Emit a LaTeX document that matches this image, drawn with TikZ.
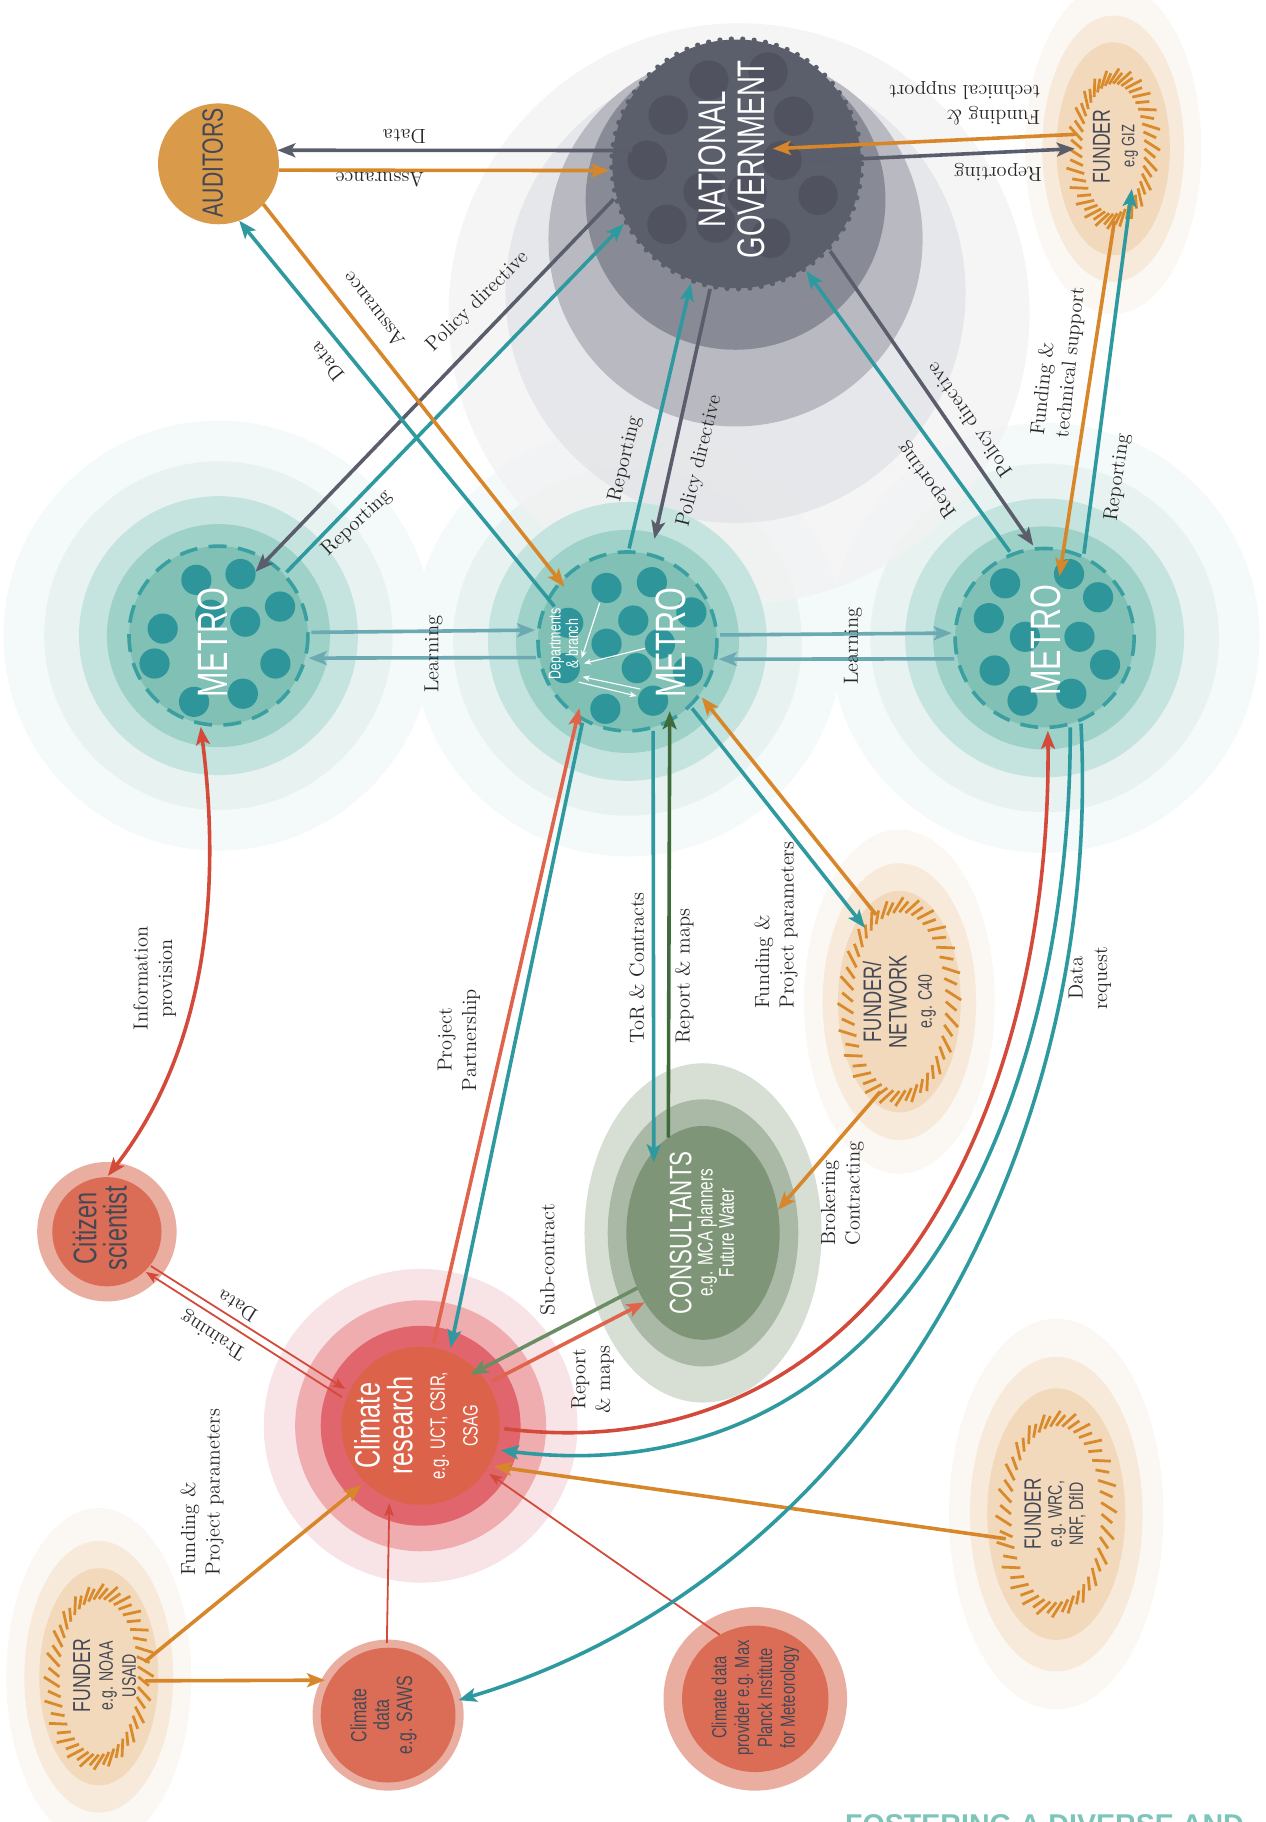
\documentclass[tikz,border=0pt]{standalone}
\usepackage{fontspec}
\usetikzlibrary{arrows.meta,shapes.geometric,calc}
\newfontfamily\condfont[FakeStretch=0.72]{Liberation Sans}
\newfontfamily\plainsans{Liberation Sans}

\definecolor{ngGear}{HTML}{5B5E6B}
\definecolor{ngDot}{HTML}{50535F}
\definecolor{ngRingA}{HTML}{888B96}
\definecolor{ngRingB}{HTML}{B9BAC1}
\definecolor{ngRingC}{HTML}{E4E5E8}
\definecolor{ngRingD}{HTML}{F2F2F3}
\definecolor{mtDot}{HTML}{2E969B}
\definecolor{mtCore}{HTML}{80C0B5}
\definecolor{mtRingA}{HTML}{9ED1C8}
\definecolor{mtRingB}{HTML}{C6E4DF}
\definecolor{mtRingC}{HTML}{E8F3F1}
\definecolor{mtRingD}{HTML}{F4F9F9}
\definecolor{mtDash}{HTML}{3A9FA1}
\definecolor{audCol}{HTML}{D99A4A}
\definecolor{txtDark}{HTML}{454854}
\definecolor{fnHatch}{HTML}{D98A2B}
\definecolor{fnFill}{HTML}{F2D9BB}
\definecolor{fnRingA}{HTML}{F7EADB}
\definecolor{fnRingB}{HTML}{FBF7F2}
\definecolor{csCore}{HTML}{7E9677}
\definecolor{csRingA}{HTML}{AAB9A6}
\definecolor{csRingB}{HTML}{D7DFD5}
\definecolor{crCore}{HTML}{DC624A}
\definecolor{crRingA}{HTML}{E0656D}
\definecolor{crRingB}{HTML}{EFADB0}
\definecolor{crRingC}{HTML}{F8E4E6}
\definecolor{rdCore}{HTML}{DB6D56}
\definecolor{rdRing}{HTML}{E9AEA0}
\definecolor{arGray}{HTML}{5A5D6B}
\definecolor{arOrange}{HTML}{D8862A}
\definecolor{arTeal}{HTML}{2E9AA0}
\definecolor{arLearn}{HTML}{6BA9B3}
\definecolor{arRed}{HTML}{D44A3A}
\definecolor{arSalmon}{HTML}{E0634C}
\definecolor{arGreen}{HTML}{3E6B39}
\definecolor{arSage}{HTML}{6B8D64}
\definecolor{titleCol}{HTML}{7DC4B9}

\tikzset{
  hub/.style={circle,inner sep=0pt,outer sep=0pt},
  hubell/.style={ellipse,inner sep=0pt,outer sep=0pt},
  flow/.style={line width=2.2pt,-{Stealth[length=11pt,width=8.5pt,inset=2.5pt]}},
  flowboth/.style={line width=2.2pt,{Stealth[length=11pt,width=8.5pt,inset=2.5pt]}-{Stealth[length=11pt,width=8.5pt,inset=2.5pt]}},
  thinflow/.style={line width=1.1pt,-{Stealth[length=8pt,width=6pt,inset=2pt]}},
  wflow/.style={white,line width=0.7pt,-{Stealth[length=4.5pt,width=3.5pt]}},
  lbl/.style={font=\fontsize{12.5}{15}\selectfont,inner sep=0pt,text=black!85,align=center},
  ent/.style={font=\condfont,inner sep=0pt,align=center,rotate=90}
}

% funder: centre x, centre y, hatch radii, halo scale
\newcommand\funder[5]{%
  \fill[fnRingB] (#1,#2) ellipse [x radius={2.05*#5*#3}, y radius={2.05*#5*#4}];
  \fill[fnRingA] (#1,#2) ellipse [x radius={1.65*#5*#3}, y radius={1.65*#5*#4}];
  \fill[fnFill] (#1,#2) ellipse [x radius={1.32*#5*#3}, y radius={1.32*#5*#4}];
  \foreach \a in {0,7.5,...,352.5}
    \draw[fnHatch,line width=1.7pt] (#1,#2) ++({\a}:{#3-6} and {#4-6}) -- ++({\a+40}:{12+4*mod(\a/7.5,2)});
}

\begin{document}
\begin{tikzpicture}[x=0.025cm,y=-0.025cm]
\useasboundingbox (0,0) rectangle (1089,1568);

% halos
\foreach \cx/\cy in {188/547,540/552,899/549} {
  \fill[mtRingD] (\cx,\cy) circle (185);
  \fill[mtRingC] (\cx,\cy) circle (150);
}
\fill[ngRingD,fill opacity=.8] (636,270) circle (250);
\fill[ngRingC,fill opacity=.85] (633,252) circle (198);
\foreach \cx/\cy in {188/547,540/552,899/549} {
  \fill[mtRingB] (\cx,\cy) circle (120);
  \fill[mtRingA] (\cx,\cy) circle (96);
  \fill[mtCore] (\cx,\cy) circle (77);
  \draw[mtDash,line width=2.2pt,dash pattern=on 11pt off 7pt] (\cx,\cy) circle (77);
}
\foreach \p in {(169,499),(207,494),(241,522),(140,541),(211,535),(181,529),(133,571),(237,571),(167,604),(209,597)}
  \fill[mtDot] \p circle (13);
\foreach \p in {(522,506),(561,501),(545,534),(595,527),(489,536),(522,554),(568,554),(486,575),(548,575),(592,578),(521,610),(562,603)}
  \fill[mtDot] \p circle (13);
\foreach \p in {(865,502),(920,494),(945,514),(851,532),(882,548),(929,548),(951,572),(856,577),(880,603),(922,597)}
  \fill[mtDot] \p circle (13);

\fill[ngRingB] (633,206) circle (161);
\fill[ngRingA] (633,172) circle (129);
\fill[ngGear] (634,141) circle (107);
\draw[ngGear,line width=3.2pt,dash pattern=on 0pt off 7pt,line cap=round] (634,141) circle (107.5);
\foreach \p in {(610,69),(661,62),(575,99),(683,100),(557,138),(673,138),(605,165),(643,166),(704,168),(574,193),(616,192),(663,205)}
  \fill[ngDot] \p circle (17);

\fill[audCol] (188,141) circle (52);

\funder{958}{128}{33}{62}{1.12}
\funder{774}{862}{46}{83}{0.87}
\funder{909}{1303}{45}{82}{1}
\funder{85}{1443}{40}{73}{0.97}

\fill[csRingB] (605,1061) ellipse [x radius=102, y radius=146];
\fill[csRingA] (605,1061) ellipse [x radius=82, y radius=115];
\fill[csCore] (605,1061) ellipse [x radius=66, y radius=92];

\fill[crRingC] (362,1227) circle (135);
\fill[crRingB] (362,1227) circle (108);
\fill[crRingA] (362,1227) circle (86);
\fill[crCore] (362,1227) circle (68);

\fill[rdRing] (92,1060) circle (60);
\fill[rdCore] (92,1060) circle (47);
\fill[rdRing] (334,1476) circle (65);
\fill[rdCore] (334,1476) circle (58);
\fill[rdRing] (650,1462) circle (79);
\fill[rdCore] (650,1462) circle (63);

% hubs
\node[hub,minimum size=5.5cm] (natgov) at (634,141) {};
\node[hub,minimum size=2.6cm] (aud) at (188,141) {};
\node[hub,minimum size=4cm] (metroL) at (188,547) {};
\node[hub,minimum size=4cm] (metroM) at (540,552) {};
\node[hub,minimum size=4cm] (metroR) at (899,549) {};
\node[hub,minimum size=0.85cm] (dept) at (486,575) {};
\node[hubell,minimum width=1.65cm,minimum height=3.1cm] (giz) at (958,128) {};
\node[hubell,minimum width=2.3cm,minimum height=4.15cm] (c40) at (774,862) {};
\node[hubell,minimum width=3.3cm,minimum height=4.6cm] (cons) at (605,1061) {};
\node[hub,minimum size=3.6cm] (research) at (362,1227) {};
\node[hub,minimum size=2.4cm] (citizen) at (92,1060) {};
\node[hub,minimum size=3.1cm] (saws) at (334,1476) {};
\node[hub,minimum size=3.15cm] (planck) at (650,1462) {};
\node[hubell,minimum width=2.25cm,minimum height=4.1cm] (wrc) at (909,1303) {};
\node[hubell,minimum width=2cm,minimum height=3.65cm] (noaa) at (85,1443) {};
\coordinate (dotA) at (516,519);
\coordinate (dotB) at (555,558);
\coordinate (dotC) at (548,599);
\coordinate (dotD) at (551,593);

% connectors
\draw[flow,arGray,shorten <=-14pt] (natgov.174.7) -- (aud.13);
\draw[flow,arOrange] (aud.-6) -- (natgov.183);
\draw[flow,arOrange] (giz.159) -- ($(natgov)+(31,-13)$);
\draw[flow,arGray] ($(natgov)+(56,-2)$) -- (giz.180);
\draw[flow,arGray,shorten >=-12pt] (natgov.196) -- (metroL.57);
\draw[flow,arTeal] (metroL.43) -- (natgov.208);
\draw[flow,arTeal,shorten <=-8pt] (metroM.151.5) -- (aud.-70);
\draw[flow,arOrange,shorten >=-6pt] (aud.-42.6) -- (metroM.138.7);
\draw[flow,arTeal] (metroM.89) -- (natgov.249.8);
\draw[flow,arGray,shorten >=8pt] (natgov.258) -- (metroM.75.5);
\draw[flow,arTeal] (metroR.112) -- (natgov.303.4);
\draw[flow,arGray] (natgov.317) -- (metroR.97);
\draw[flow,arOrange,shorten >=-18pt] (giz.-89) -- (metroR.78);
\draw[flow,arTeal,shorten >=-16pt] (metroR.65.6) -- (giz.-77);

\draw[flow,arLearn] (metroL.2.9) -- (metroM.173.5);
\draw[flow,arLearn] (metroM.190.8) -- (metroL.-14.5);
\draw[flow,arLearn] (metroM.4.3) -- (metroR.177.9);
\draw[flow,arLearn] (metroR.193.7) -- (metroM.-11.5);

\draw[wflow] (dotA) -- (dept.31);
\draw[wflow] (dotB) -- (dept.14);
\draw[wflow] (dept.-45) -- (dotC);
\draw[wflow] (dotD) -- (dept.-26.6);

\draw[flow,arTeal,shorten >=-7pt] (metroM.-74.8) -- (cons.121);
\draw[flow,arGreen,shorten >=-8pt] (cons.110) -- (metroM.-63.3);
\draw[flow,arTeal] (metroM.-46.5) -- (c40.115);
\draw[flow,arOrange] (c40.105.6) -- (metroM.-37.7);
\draw[flow,arOrange] (c40.-102) -- (cons.17);
\draw[flow,arSage,shorten >=-8pt] (cons.220.7) -- (research.43.6);
\draw[flow,arSalmon] (research.32.4) -- (cons.230);
\draw[flow,arSalmon,shorten >=-7pt] (research.81) -- (metroM.-123.7);
\draw[flow,arTeal] (metroM.-119) -- (research.69.5);

\draw[flowboth,arRed] (metroL.259) .. controls (190,760) and (180,900) .. (citizen.89);
\draw[thinflow,arRed] (citizen.-38.7) -- (research.154.5);
\draw[thinflow,arRed] (research.160.5) -- (citizen.-46);

\draw[flow,arOrange] (noaa.18.4) -- (research.225);
\draw[flow,arOrange] (noaa.-5) -- (saws.151.6);
\draw[thinflow,arRed] (saws.91) -- (research.-112.2);
\draw[thinflow,arRed] (planck.119.4) -- (research.-35.5);
\draw[flow,arOrange] (wrc.206) -- (research.-29);

\draw[flow,arRed] (research.-2.5) .. controls (760,1270) and (905,950) .. (metroR.-88);
\draw[flow,arTeal] (metroR.-74) .. controls (922,955) and (775,1290) .. (research.-17);
\draw[flow,arTeal] (metroR.-67) .. controls (950,1000) and (740,1360) .. (saws.12.6);

% entity texts
\node[ent,text=white,font=\condfont\fontsize{23.5}{24}\selectfont] (tNatgov) at (630,137) {NATIONAL\\GOVERNMENT};
\node[ent,text=txtDark,font=\condfont\fontsize{18}{18}\selectfont] (tAud) at (183,140) {AUDITORS};
\node[ent,text=white,font=\condfont\fontsize{26}{26}\selectfont] (tMetroL) at (183,553) {METRO};
\node[ent,text=white,font=\condfont\fontsize{26}{26}\selectfont] (tMetroM) at (577,553) {METRO};
\node[ent,text=white,font=\condfont\fontsize{26}{26}\selectfont] (tMetroR) at (900,551) {METRO};
\node[ent,text=white,font=\condfont\fontsize{10.5}{9.5}\selectfont] (tDept) at (485,554) {Departments\\\& branch};
\node[ent,text=txtDark,font=\condfont\fontsize{15}{15}\selectfont] (tGiz) at (960,126) {FUNDER\\\fontsize{11}{12}\selectfont e.g GIZ};
\node[ent,text=txtDark,font=\condfont\fontsize{15.5}{15.5}\selectfont] (tC40) at (774,862) {FUNDER/\\NETWORK\\\fontsize{12}{14}\selectfont e.g. C40};
\node[ent,text=white,font=\condfont\fontsize{13}{13}\selectfont] (tCons) at (604,1061) {\fontsize{19}{19}\selectfont CONSULTANTS\\e.g. MCA planners\\Future Water};
\node[ent,text=white,font=\condfont\fontsize{21.5}{20}\selectfont] (tResearch) at (358,1227) {Climate\\research\\\fontsize{12.7}{15}\selectfont e.g. UCT, CSIR,\\\fontsize{12.7}{15}\selectfont CSAG};
\node[ent,text=txtDark,font=\condfont\fontsize{20}{18.5}\selectfont] (tCitizen) at (86,1057) {Citizen\\scientist};
\node[ent,text=txtDark,font=\condfont\fontsize{13.5}{14}\selectfont] (tSaws) at (330,1476) {Climate\\data\\e.g. SAWS};
\node[ent,text=txtDark,font=\condfont\fontsize{12.5}{14}\selectfont] (tPlanck) at (650,1461) {Climate data\\provider e.g. Max\\Planck Institute\\for Meteorology};
\node[ent,text=txtDark,font=\condfont\fontsize{12}{13}\selectfont] (tWrc) at (908,1303) {\fontsize{14.5}{15}\selectfont FUNDER\\e.g. WRC,\\NRF, DfID};
\node[ent,text=txtDark,font=\condfont\fontsize{12}{14}\selectfont] (tNoaa) at (90,1442) {\fontsize{15}{15}\selectfont FUNDER\\e.g. NOAA\\USAID};

% connector labels
\node[lbl,rotate=180] (lbDataNA) at (348,117) {Data};
\node[lbl,rotate=180] (lbAssurNA) at (327,155) {Assurance};
\node[lbl,rotate=180,align=left] (lbFundNG) at (830,89) {Funding \&\\technical support};
\node[lbl,rotate=180] (lbRepNG) at (859,148) {Reporting};
\node[lbl,rotate=44.6] (lbPolL) at (411,260) {Policy directive};
\node[lbl,rotate=43] (lbRepL) at (307,450) {Reporting};
\node[lbl,rotate=128.3] (lbDataM) at (281,311) {Data};
\node[lbl,rotate=128] (lbAssurM) at (321,267) {Assurance};
\node[lbl,rotate=76.7] (lbRepM) at (538,395) {Reporting};
\node[lbl,rotate=76] (lbPolM) at (602,397) {Policy directive};
\node[lbl,rotate=126] (lbRepR) at (798,413) {Reporting};
\node[lbl,rotate=125] (lbPolR) at (835,361) {Policy directive};
\node[lbl,rotate=84,align=left] (lbFundR) at (911,311) {Funding \&\\technical support};
\node[lbl,rotate=82] (lbRepGiz) at (962,411) {Reporting};
\node[lbl,rotate=90] (lbLearnA) at (373,563) {Learning};
\node[lbl,rotate=90] (lbLearnB) at (734,556) {Learning};
\node[lbl,rotate=90] (lbToR) at (548,833) {ToR \& Contracts};
\node[lbl,rotate=90] (lbMaps) at (589,840) {Report \& maps};
\node[lbl,rotate=90,align=left] (lbFundC) at (668,796) {Funding \&\\Project parameters};
\node[lbl,rotate=90,align=left] (lbBroker) at (725,1027) {Brokering\\Contracting};
\node[lbl,rotate=90] (lbDataReq) at (938,842) {Data\\request};
\node[lbl,rotate=90] (lbPartner) at (395,895) {Project\\Partnership};
\node[lbl,rotate=90] (lbInfo) at (133,842) {Information\\provision};
\node[lbl,rotate=90] (lbSub) at (471,1084) {Sub-contract};
\node[lbl,rotate=90] (lbMaps2) at (510,1187) {Report\\\& maps};
\node[lbl,rotate=147.6] (lbDataC) at (204,1124) {Data};
\node[lbl,rotate=147.6] (lbTrain) at (184,1149) {Training};
\node[lbl,rotate=90,align=left] (lbFundN) at (174,1284) {Funding \&\\Project parameters};

\node[anchor=base west,inner sep=0pt,text=titleCol,font=\plainsans\bfseries\fontsize{17.5}{18}\selectfont] (title) at (727,1579) {FOSTERING A DIVERSE AND};
\end{tikzpicture}
\end{document}
